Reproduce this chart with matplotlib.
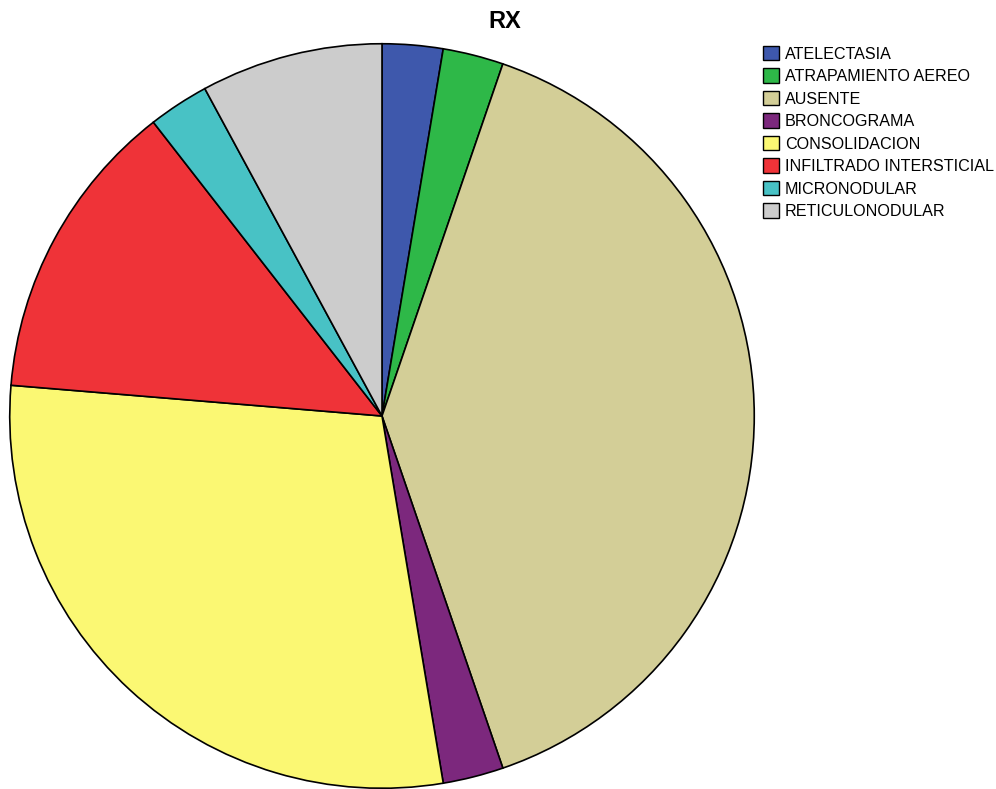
import matplotlib
matplotlib.use('Agg')
import matplotlib.pyplot as plt

plt.rcParams['font.family'] = ['Liberation Sans', 'DejaVu Sans']

# RX findings (counts)
categories = ['ATELECTASIA', 'ATRAPAMIENTO AEREO', 'AUSENTE', 'BRONCOGRAMA',
              'CONSOLIDACION', 'INFILTRADO INTERSTICIAL', 'MICRONODULAR',
              'RETICULONODULAR']
counts = [1, 1, 15, 1, 11, 5, 1, 3]
colors = ['#3E58AC', '#2EB848', '#D3CE97', '#7C287D',
          '#FBF873', '#EF3338', '#48C2C5', '#CCCCCC']

fig = plt.figure(figsize=(9.96, 7.89), dpi=100)
W, H = 996, 789

# pie axes placed in pixels: center (382, 416), radius 373
cx, cy, r = 382, 416, 373
ax = fig.add_axes([(cx - r) / W, (H - cy - r) / H, 2 * r / W, 2 * r / H])
wedges, _ = ax.pie(counts, colors=colors, startangle=90, counterclock=False,
                   radius=1.0,
                   wedgeprops=dict(edgecolor='black', linewidth=1.2))
ax.set_xlim(-1.002, 1.002)
ax.set_ylim(-1.002, 1.002)
ax.set_aspect('equal')
ax.axis('off')

fig.text(505 / W, 1 - 21 / H, 'RX', ha='center', va='center',
         fontsize=17, fontweight='bold')

leg = fig.legend(wedges, categories, loc='upper left',
                 bbox_to_anchor=(763 / W, 1 - 46 / H),
                 frameon=False, fontsize=11.6, handlelength=1.0,
                 handleheight=1.0, handletextpad=0.35, labelspacing=0.42,
                 borderpad=0, borderaxespad=0)
for p in leg.get_patches():
    p.set_edgecolor('black')
    p.set_linewidth(1.0)

fig.savefig('out.png', dpi=100)
